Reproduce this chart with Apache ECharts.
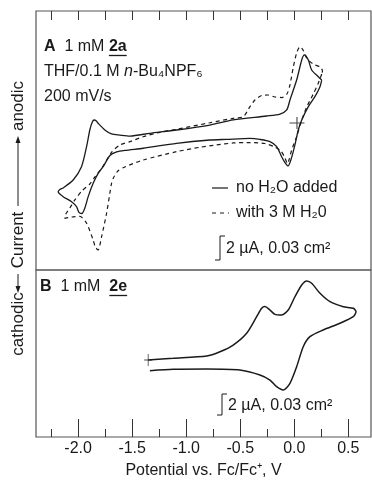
<!DOCTYPE html>
<html><head><meta charset="utf-8">
<script src="https://cdn.jsdelivr.net/npm/echarts@6/dist/echarts.min.js"></script>
<style>html,body{margin:0;padding:0;background:#fff}#c{width:372px;height:487px}</style>
</head><body><div id="c"></div>
<script>
// ---- data (potential in V vs Fc/Fc+, current in µA, arbitrary zero) ----
const xTicksMajor = [-2.0, -1.5, -1.0, -0.5, 0.0, 0.5];
const xTicksMinor = [-2.25, -1.75, -1.25, -0.75, -0.25, 0.25];
const xTicksTop = [-2.25, -2.0, -1.75, -1.5, -1.25, -1.0, -0.75, -0.5, -0.25, 0.0, 0.25, 0.5];

const cvA_noWater = [[0.254,5.45],[0.238,4.85],[0.191,3.94],[0.130,3.03],[0.069,1.82],[0.037,0.91],[0.006,-0.45],[-0.026,-1.64],[-0.058,-2.36],[-0.086,-2.05],[-0.117,-1.52],[-0.163,-0.61],[-0.225,-0.15],[-0.318,0.05],[-0.410,0.14],[-0.626,0.06],[-0.781,0],[-1.089,-0.30],[-1.398,-0.75],[-1.568,-0.95],[-1.644,-1.09],[-1.706,-1.41],[-1.769,-2.43],[-1.815,-3.03],[-1.861,-3.94],[-1.907,-5.15],[-1.938,-6.18],[-1.966,-6.68],[-1.994,-6.55],[-2.015,-6.06],[-2.061,-5.61],[-2.139,-5.15],[-2.185,-4.70],[-2.169,-4.50],[-2.139,-4.36],[-2.046,-3.64],[-1.969,-2.43],[-1.922,-0.61],[-1.892,0.91],[-1.869,1.64],[-1.852,1.82],[-1.831,1.73],[-1.815,1.52],[-1.753,0.91],[-1.691,0.55],[-1.614,0.45],[-1.521,0.36],[-1.336,0.61],[-1.089,0.91],[-0.781,1.36],[-0.565,1.82],[-0.256,2.18],[-0.132,2.36],[-0.070,2.73],[-0.040,3.64],[0.022,5.45],[0.069,7.27],[0.093,7.73],[0.130,7.27],[0.161,6.36],[0.222,5.75],[0.254,5.45]];

const cvA_water = [[0.254,6.00],[0.222,5.15],[0.176,4.18],[0.115,3.00],[0.069,1.82],[0.022,0.30],[-0.024,-0.91],[-0.049,-1.82],[-0.063,-2.14],[-0.086,-1.64],[-0.123,-1.00],[-0.179,-0.64],[-0.271,-0.32],[-0.410,-0.23],[-0.565,-0.27],[-0.719,-0.45],[-0.873,-0.66],[-1.089,-1.06],[-1.398,-1.82],[-1.568,-2.45],[-1.632,-2.82],[-1.674,-3.45],[-1.691,-3.94],[-1.737,-6.66],[-1.783,-8.79],[-1.815,-10.0],[-1.841,-9.73],[-1.861,-9.09],[-1.922,-7.57],[-1.984,-6.95],[-2.058,-7.00],[-2.123,-7.12],[-2.114,-6.73],[-2.077,-6.18],[-2.031,-5.45],[-1.966,-4.64],[-1.892,-4.00],[-1.845,-3.36],[-1.781,-2.55],[-1.688,-1.09],[-1.614,-0.45],[-1.521,-0.15],[-1.398,0.30],[-1.244,0.70],[-1.089,0.97],[-0.781,1.57],[-0.565,1.97],[-0.472,2.12],[-0.410,3.03],[-0.364,3.64],[-0.302,4.05],[-0.244,4.09],[-0.179,3.91],[-0.114,3.86],[-0.068,4.18],[-0.040,5.00],[-0.009,6.64],[0.025,8.00],[0.053,8.48],[0.081,8.18],[0.115,7.45],[0.173,6.91],[0.238,6.64],[0.261,6.27],[0.254,6.00]];

const cvB = [[-1.352,0.91],[-1.120,1.06],[-0.811,1.27],[-0.688,1.66],[-0.565,2.27],[-0.441,3.34],[-0.348,4.85],[-0.302,5.61],[-0.271,5.77],[-0.225,5.45],[-0.179,5.06],[-0.117,5.00],[-0.056,5.45],[0.006,6.66],[0.069,7.73],[0.115,8.09],[0.161,7.88],[0.238,6.97],[0.331,6.21],[0.454,5.75],[0.546,5.61],[0.571,5.30],[0.546,4.85],[0.423,4.25],[0.269,3.64],[0.145,3.03],[0.083,2.12],[0.022,0.30],[-0.040,-1.21],[-0.102,-1.82],[-0.163,-1.52],[-0.225,-0.91],[-0.318,-0.45],[-0.503,0],[-0.811,0.09],[-1.120,0.06],[-1.336,-0.06]];

const startA = [[0.025, 1.55]];
const startB = [[-1.352, 0.91]];

const legendLabels = ['no H\u2082O added', 'with 3 M H\u20820'];
const scaleLabel = '2 \u00b5A, 0.03 cm\u00b2';

// ---- drawing ----
const FF = '"Liberation Sans", Arial, Helvetica, sans-serif';
const FS = 16;
const INK = '#1a1a1a';
const ctx = document.createElement('canvas').getContext('2d');
function tw(t, size, weight, style) {
  ctx.font = (style || 'normal') + ' ' + (weight || 'normal') + ' ' + size + 'px ' + FF;
  return ctx.measureText(t).width;
}
function txt(text, x, y, opt) {
  opt = opt || {};
  return {
    type: 'text', x: x, y: y, rotation: opt.rotation || 0, z: 100,
    style: {
      text: text, x: 0, y: 0, fill: INK,
      fontSize: opt.size || FS, fontFamily: FF,
      fontWeight: opt.weight || 'normal', fontStyle: opt.style || 'normal',
      align: opt.align || 'left', verticalAlign: 'middle',
      textAlign: opt.align || 'left', textVerticalAlign: 'middle',
      rich: opt.rich
    }
  };
}
function seg(x1, y1, x2, y2, w) {
  return { type: 'line', z: 100, shape: { x1: x1, y1: y1, x2: x2, y2: y2 }, style: { stroke: INK, lineWidth: w || 1 } };
}

const L = 36, R = 1, TOP = 11, MID = 270, BOT = 437;
const W = 372 - L - R;
const graphics = [];

// Panel titles
function panelTitle(letter, gap, name, x, y) {
  const wL = tw(letter, FS, 'bold');
  graphics.push(txt(letter, x, y, { weight: 'bold' }));
  const x1 = x + wL + tw('  ', FS);
  graphics.push(txt('1 mM', x1, y));
  const x2 = x1 + tw('1 mM' + gap, FS);
  graphics.push(txt(name, x2, y, { weight: 'bold' }));
  graphics.push(seg(x2, y + 8.5, x2 + tw(name, FS, 'bold'), y + 8.5, 1.3));
}
panelTitle('A', ' ', '2a', 44, 47);
panelTitle('B', '  ', '2e', 40, 287);

graphics.push(txt('{r|THF/0.1 M }{i|n}{r|-Bu\u2084NPF\u2086}', 44, 72, {
  rich: { r: { fontSize: FS, fontFamily: FF, fill: INK }, i: { fontSize: FS, fontFamily: FF, fontStyle: 'italic', fill: INK } }
}));
graphics.push(txt('200 mV/s', 44, 97));

// legend
graphics.push(seg(212, 188, 228, 188, 1.2));
graphics.push(txt(legendLabels[0], 236, 188));
graphics.push({ type: 'line', z: 100, shape: { x1: 212, y1: 213, x2: 229, y2: 213 }, style: { stroke: INK, lineWidth: 1.2, lineDash: [4, 4] } });
graphics.push(txt(legendLabels[1], 236, 213));

// scale bars
function scaleBar(x, y1, y2, tx) {
  graphics.push(seg(x, y1, x, y2, 1));
  graphics.push(seg(x, y1, x + 5, y1, 1));
  graphics.push(seg(x - 5, y2, x, y2, 1));
  graphics.push(txt(scaleLabel, tx, (y1 + y2) / 2 + 1));
}
scaleBar(220, 236, 260, 226);
scaleBar(222, 394, 415, 228);

// left rotated label: cathodic <-- Current --> anodic
const LX = 18, LFS = 17;
graphics.push(txt('anodic', LX, 106, { rotation: Math.PI / 2, align: 'center', size: LFS }));
graphics.push(txt('Current', LX, 240, { rotation: Math.PI / 2, align: 'center', size: LFS }));
graphics.push(txt('cathodic', LX, 324, { rotation: Math.PI / 2, align: 'center', size: LFS }));
graphics.push(seg(LX, 141, LX, 206, 1));
graphics.push(seg(LX, 274, LX, 288, 1));
graphics.push({ type: 'polygon', z: 100, shape: { points: [[LX, 136], [LX - 2.5, 143], [LX + 2.5, 143]] }, style: { fill: INK } });
graphics.push({ type: 'polygon', z: 100, shape: { points: [[LX, 293], [LX - 2.5, 286], [LX + 2.5, 286]] }, style: { fill: INK } });

const XMIN = -2.39, XMAX = 0.71;
function xAx(grid, pos, ticks, len, labels) {
  return {
    type: 'value', gridIndex: grid, position: pos, min: XMIN, max: XMAX,
    axisLine: { show: false, onZero: false }, splitLine: { show: false },
    axisTick: { show: true, inside: true, length: len, customValues: ticks, lineStyle: { color: '#333', width: 1 } },
    axisLabel: labels ? { show: true, customValues: labels, formatter: v => v.toFixed(1), color: INK, fontSize: FS, fontFamily: FF, margin: 4 } : { show: false }
  };
}
const xAxes = [
  xAx(0, 'top', xTicksTop, 9, null),
  Object.assign(xAx(1, 'bottom', xTicksMajor, 18, xTicksMajor), {
    name: 'Potential vs. Fc/Fc\u207a, V', nameLocation: 'middle', nameGap: 26,
    nameTextStyle: { color: INK, fontSize: FS, fontFamily: FF }
  }),
  xAx(1, 'bottom', xTicksMinor, 8, null)
];
function yAx(grid, min, max) {
  return { type: 'value', gridIndex: grid, min: min, max: max, show: false, splitLine: { show: false } };
}
const crossSym = 'path://M0,6L14,6M7,0L7,12';
const lineStyle = { color: INK, width: 1.3 };
const option = {
  animation: false,
  backgroundColor: '#fff',
  grid: [
    { left: L, top: TOP, width: W, height: MID - TOP, show: true, borderColor: '#555', borderWidth: 1.2, backgroundColor: 'transparent' },
    { left: L, top: MID, width: W, height: BOT - MID, show: true, borderColor: '#555', borderWidth: 1.2, backgroundColor: 'transparent' }
  ],
  xAxis: xAxes,
  yAxis: [yAx(0, -11.818, 11.727), yAx(1, -6.09, 9.09)],
  series: [
    { type: 'line', xAxisIndex: 0, yAxisIndex: 0, data: cvA_noWater, showSymbol: false, smooth: 0.25, lineStyle: lineStyle },
    { type: 'line', xAxisIndex: 0, yAxisIndex: 0, data: cvA_water, showSymbol: false, smooth: 0.25, lineStyle: { color: INK, width: 1.2, type: [4, 3.5] } },
    { type: 'line', xAxisIndex: 1, yAxisIndex: 1, data: cvB, showSymbol: false, smooth: 0.25, lineStyle: { color: INK, width: 1.5 } },
    { type: 'scatter', xAxisIndex: 0, yAxisIndex: 0, data: startA, symbol: crossSym, symbolSize: [15, 12], itemStyle: { color: 'rgba(0,0,0,0)', borderColor: INK, borderWidth: 1 } },
    { type: 'scatter', xAxisIndex: 1, yAxisIndex: 1, data: startB, symbol: crossSym, symbolSize: [8, 12], itemStyle: { color: 'rgba(0,0,0,0)', borderColor: INK, borderWidth: 1 } }
  ],
  graphic: graphics
};
const chart = echarts.init(document.getElementById('c'), null, { renderer: 'canvas' });
chart.setOption(option);
</script>
</body></html>
